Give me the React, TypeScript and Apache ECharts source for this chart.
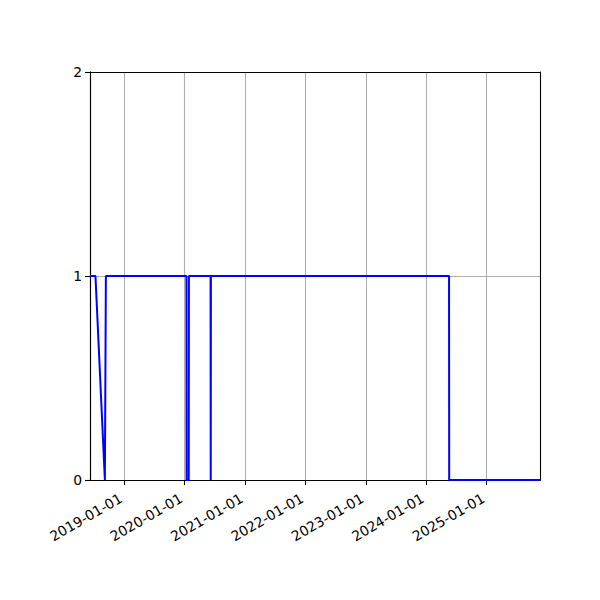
import React, { useEffect, useRef } from 'react';
import * as echarts from 'echarts';

// change points of the series (step-like 0/1 signal)
const dates = [
  '2018-06-08', '2018-07-11', '2018-09-06', '2018-09-12',
  '2020-01-12', '2020-01-13', '2020-01-26', '2020-01-27',
  '2020-06-06', '2020-06-07', '2020-06-08',
  '2024-05-18', '2024-05-19', '2025-11-19'
];
const values = [1, 1, 0, 1, 1, 0, 0, 1, 1, 0, 1, 1, 0, 0];
const tickDates = ['2019-01-01', '2020-01-01', '2021-01-01', '2022-01-01', '2023-01-01', '2024-01-01', '2025-01-01'];
const yTicks = [0, 1, 2];

const ts = (d: string) => Date.UTC(+d.slice(0, 4), +d.slice(5, 7) - 1, +d.slice(8, 10));
const fmt = (v: number) => {
  const d = new Date(v);
  const p = (n: number) => String(n).padStart(2, '0');
  return `${d.getUTCFullYear()}-${p(d.getUTCMonth() + 1)}-${p(d.getUTCDate())}`;
};

const App: React.FC = () => {
  const ref = useRef<HTMLDivElement>(null);

  useEffect(() => {
    if (!ref.current) return;
    const chart = echarts.init(ref.current, null, { renderer: 'svg' });
    const font = 'DejaVu Sans';
    const ticks = tickDates.map(ts);
    const xMin = ts(dates[0]);
    const xMax = ts(dates[dates.length - 1]);
    const spine = { show: true, onZero: false, lineStyle: { color: '#000', width: 1.1 } };
    // bare axis used only to draw a spine on top of the line, as matplotlib does
    const spineOnly = {
      type: 'value',
      z: 3,
      axisLine: spine,
      axisTick: { show: false },
      axisLabel: { show: false },
      splitLine: { show: false }
    };

    chart.setOption({
      animation: false,
      grid: { left: 90, right: 60, top: 72, bottom: 120 },
      xAxis: [
        {
          type: 'value',
          min: xMin,
          max: xMax,
          axisLine: spine,
          axisTick: { show: true, length: 5, customValues: ticks, lineStyle: { color: '#000', width: 1.1 } },
          splitLine: { show: true, lineStyle: { color: '#b0b0b0', width: 1.1 } },
          axisLabel: {
            customValues: ticks,
            rotate: 30,
            margin: 15,
            padding: [0, 4, 0, 0],
            fontFamily: font,
            fontSize: 13.9,
            color: '#000',
            formatter: (v: number) => fmt(v)
          }
        },
        { ...spineOnly, position: 'top', min: xMin, max: xMax },
        { ...spineOnly, position: 'bottom', min: xMin, max: xMax }
      ],
      yAxis: [
        {
          type: 'value',
          min: yTicks[0],
          max: yTicks[yTicks.length - 1],
          interval: 1,
          axisLine: spine,
          axisTick: { show: true, length: 5, lineStyle: { color: '#000', width: 1.1 } },
          splitLine: { show: true, lineStyle: { color: ['#000', '#b0b0b0', '#000'], width: 1.1 } },
          axisLabel: { margin: 8, fontFamily: font, fontSize: 13.9, color: '#000' }
        },
        { ...spineOnly, position: 'right', min: yTicks[0], max: yTicks[yTicks.length - 1] },
        { ...spineOnly, position: 'left', min: yTicks[0], max: yTicks[yTicks.length - 1] }
      ],
      series: [
        {
          type: 'line',
          data: dates.map((d, i) => [ts(d), values[i]]),
          symbol: 'none',
          lineStyle: { color: '#0000ff', width: 2 },
          itemStyle: { color: '#0000ff' }
        }
      ]
    });

    return () => {
      chart.dispose();
    };
  }, []);

  return <div ref={ref} style={{ width: 600, height: 600, margin: -8 }} />;
};

export default App;
